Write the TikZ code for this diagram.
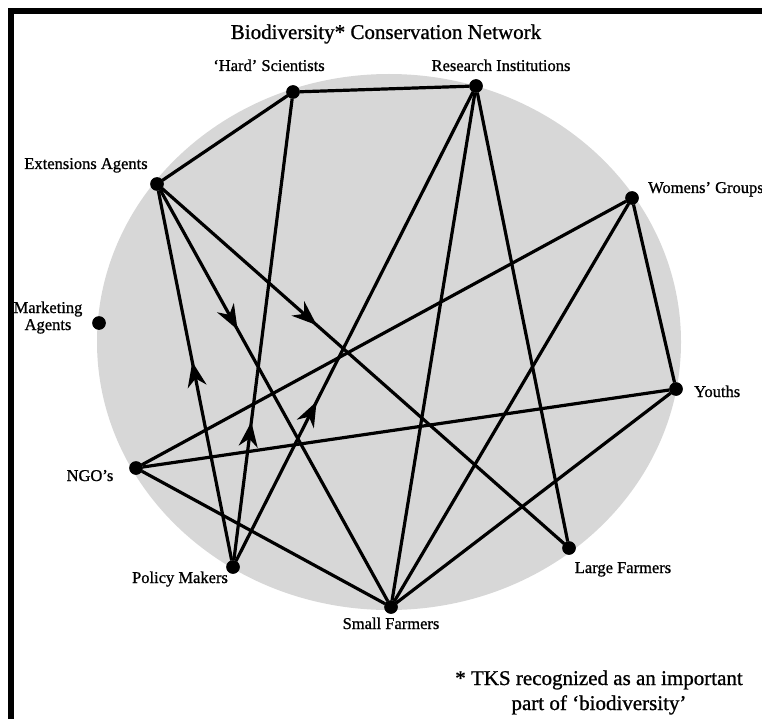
\documentclass[tikz,border=0pt]{standalone}
\usepackage{fontspec}
\setmainfont{Liberation Serif}[FakeBold=1]
\usetikzlibrary{arrows.meta,decorations.markings}
\definecolor{discgray}{RGB}{215,215,215}
\tikzset{
  dot/.style={circle,fill=black,inner sep=0pt,minimum size=13pt},
  tie/.style={line width=3.2pt,black},
  lbl/.style={font=\fontsize{16.5}{17}\selectfont,inner sep=0pt,anchor=base},
  flow/.style={tie,postaction={decorate},
    decoration={markings,mark=at position #1 with
      {\arrow{Stealth[length=25pt,width=19pt,inset=8pt]}}}},
}
\begin{document}
\begin{tikzpicture}[x=1pt,y=-1pt]
\useasboundingbox (0,0) rectangle (762,719);

% shaded disc behind the network
\fill[discgray] (389,342) ellipse [x radius=292, y radius=268];

% heavy frame along the left and top
\draw[line width=6pt] (11,740) -- (11,11) -- (780,11);

% title
\node[font=\fontsize{21}{24}\selectfont,inner sep=0pt,anchor=base] (title) at (386,39)
  {Biodiversity* Conservation Network};

% actors
\node[dot] (hs)  at (293,92)  {};
\node[dot] (ri)  at (476,86)  {};
\node[dot] (ea)  at (157,184) {};
\node[dot] (wg)  at (632,198) {};
\node[dot] (ma)  at (99,323)  {};
\node[dot] (yo)  at (676,389) {};
\node[dot] (ngo) at (136,468) {};
\node[dot] (pm)  at (233,567) {};
\node[dot] (sf)  at (391,607) {};
\node[dot] (lf)  at (569,548) {};

% ties between actors
\draw[tie] (ea) -- (hs);
\draw[tie] (hs) -- (ri);
\draw[tie] (ri) -- (sf);
\draw[tie] (ri) -- (lf);
\draw[tie] (wg) -- (ngo);
\draw[tie] (wg) -- (sf);
\draw[tie] (wg) -- (yo);
\draw[tie] (yo) -- (ngo);
\draw[tie] (yo) -- (sf);
\draw[tie] (ngo) -- (sf);
\draw[flow=0.34]  (ea) -- (sf);
\draw[flow=0.385] (ea) -- (lf);
\draw[flow=0.537] (pm) -- (ea);
\draw[flow=0.30]  (pm) -- (hs);
\draw[flow=0.34]  (pm) -- (ri);

% dots on top of the tie ends
\foreach \n in {hs,ri,ea,wg,ma,yo,ngo,pm,sf,lf}
  \fill (\n) circle (6.8pt);

% labels
\node[lbl] (hsl)  at (269,71)  {`Hard' Scientists};
\node[lbl] (ril)  at (501,71)  {Research Institutions};
\node[lbl] (eal)  at (86,169)  {Extensions Agents};
\node[lbl,anchor=base west] (wgl) at (648,193) {Womens' Groups};
\node[lbl,align=center,anchor=base] (mal) at (48,330) {Marketing\\Agents};
\node[lbl,anchor=base west] (yol) at (694,397) {Youths};
\node[lbl] (ngol) at (90,481)  {NGO's};
\node[lbl] (pml)  at (180,583) {Policy Makers};
\node[lbl] (sfl)  at (391,629) {Small Farmers};
\node[lbl] (lfl)  at (623,573) {Large Farmers};

% footnote
\node[font=\fontsize{21}{25}\selectfont,inner sep=0pt,align=center,anchor=base] (note) at (599,710)
  {* TKS recognized as an important\\part of `biodiversity'};
\end{tikzpicture}
\end{document}
